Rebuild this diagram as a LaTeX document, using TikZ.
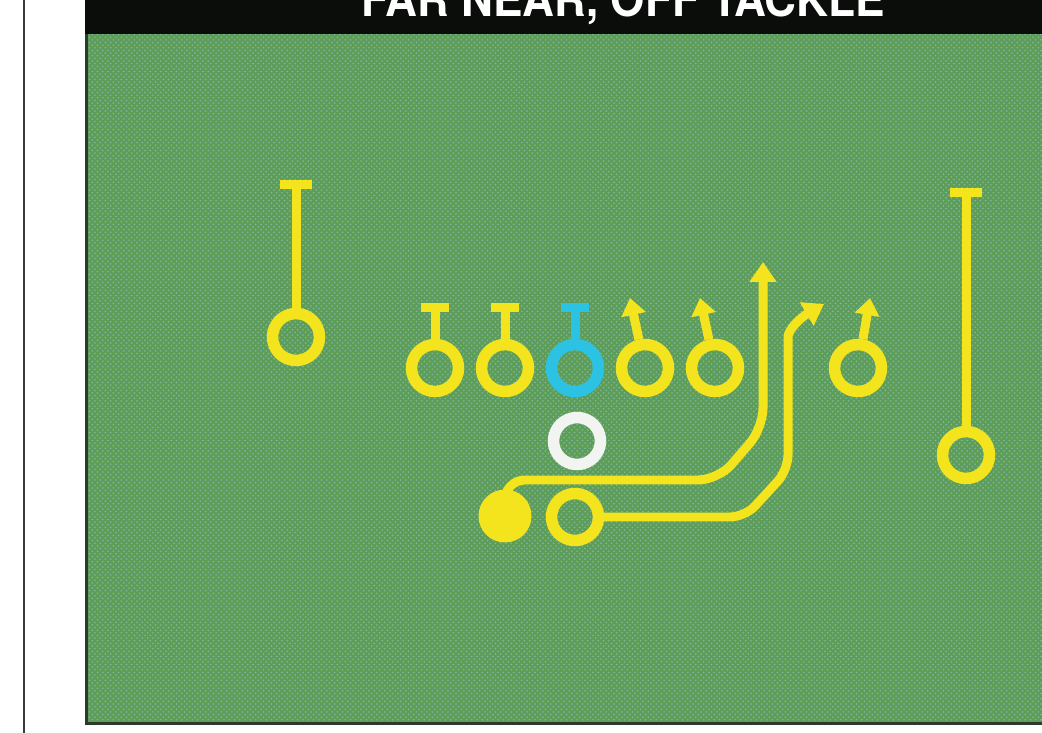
\documentclass[tikz,border=0pt]{standalone}
\usepackage{fontspec}
\setmainfont{TeX Gyre Heros}
\usepackage{xcolor}
\usetikzlibrary{arrows.meta, positioning, calc, patterns}
\definecolor{fieldgreen}{HTML}{5E9D58}
\definecolor{fielddots}{HTML}{7DB9A6}
\definecolor{barblack}{HTML}{0B0D0B}
\definecolor{edgedark}{HTML}{2B3A2C}
\definecolor{rulegray}{HTML}{3A3A3A}
\definecolor{routeyellow}{HTML}{F4E41E}
\definecolor{centercyan}{HTML}{2CC2E4}
\definecolor{qbwhite}{HTML}{F1F4F1}

\begin{document}
\begin{tikzpicture}[
    x=0.02cm, y=-0.02cm,
    player/.style={circle, draw=routeyellow, line width=0.23cm, minimum size=0.94cm, inner sep=0pt},
    carrier/.style={circle, fill=routeyellow, minimum size=1.06cm, inner sep=0pt},
    route/.style={draw=routeyellow, line width=0.18cm, line join=round},
    block/.style={route, -{Bar[width=0.64cm]}},
    run/.style={route, -{Triangle[width=0.52cm, length=0.4cm]}},
]
    \useasboundingbox (0,0) rectangle (1042,733);
    \clip (0,0) rectangle (1042,733);

    % Page and field
    \fill[white] (0,0) rectangle (1042,733);
    \draw[rulegray, line width=0.05cm] (24,0) -- (24,733);
    \fill[fieldgreen] (85,34) rectangle (1042,724);
    \fill[pattern=crosshatch dots, pattern color=fielddots] (85,34) rectangle (1042,724);
    \draw[edgedark, line width=0.06cm] (86,34) -- (86,723) -- (1042,723);
    \fill[barblack] (85,0) rectangle (1042,34);
    \node[text=white, anchor=base, inner sep=0pt] (title) at (623,17)
        {\fontsize{27}{30}\selectfont\bfseries\scalebox{0.93}[1]{FAR NEAR, OFF TACKLE}};

    % Line
    \foreach \p/\x in {lt/435, lg/505, rg/645, rt/715, te/858} {
        \node[player] (\p) at (\x,368) {};
    }
    \node[player, draw=centercyan] (c) at (575,368) {};

    % Backs and receivers
    \node[player, draw=qbwhite] (qb) at (577,441) {};
    \node[player] (fb) at (575,517) {};
    \node[carrier] (tb) at (505,516) {};
    \node[player] (lwr) at (296,337) {};
    \node[player] (rwr) at (966,455) {};

    % Route ends
    \coordinate (lwr-end) at (296,180);
    \coordinate (rwr-end) at (966,188);
    \foreach \p/\x in {lt/435, lg/505, c/575} {
        \coordinate (\p-end) at (\x,303);
    }
    \coordinate (rg-end) at (630,298);
    \coordinate (rt-end) at (700,298);
    \coordinate (te-end) at (870,298);
    \coordinate (tb-end) at (763,262);
    \coordinate (fb-end) at (824,304);

    % Blocks
    \draw[block] (lwr) -- (lwr-end);
    \draw[block] (rwr) -- (rwr-end);
    \foreach \p in {lt, lg} {
        \draw[block, -{Bar[width=0.56cm]}] (\p) -- (\p-end);
    }
    \draw[block, draw=centercyan, -{Bar[width=0.56cm]}] (c) -- (c-end);
    \foreach \p in {rg, rt, te} {
        \draw[run, -{Triangle[width=0.48cm, length=0.34cm]}] (\p) -- (\p-end);
    }

    % Ball carrier and fullback
    \draw[run, rounded corners=0.4cm] (tb.center) |- (718,480) -- (763,428) -- (tb-end);
    \draw[run, rounded corners=0.3cm] (fb) -- (745,517) -- (788,470) -- (788,352)
        .. controls (788,330) and (800,318) .. (fb-end);
\end{tikzpicture}
\end{document}
